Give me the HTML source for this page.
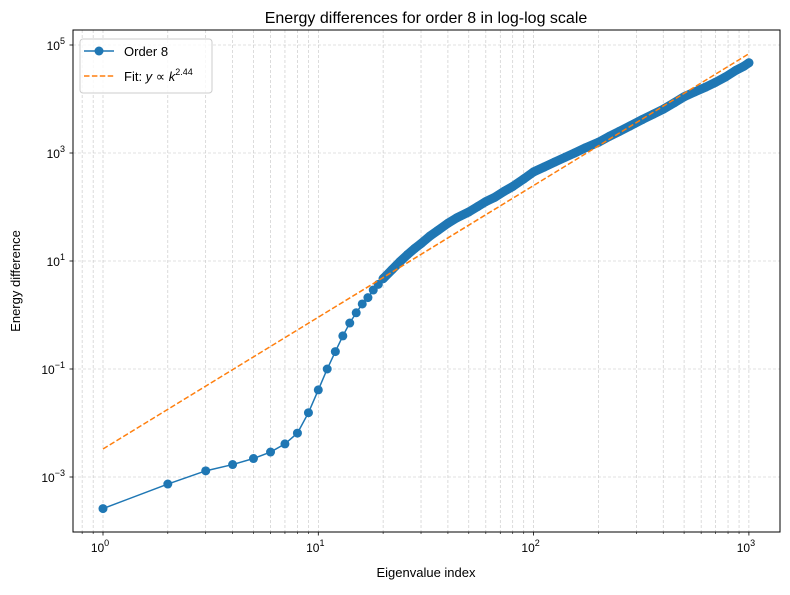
<!DOCTYPE html>
<html><head><meta charset="utf-8"><style>
body{margin:0;background:#fff;font-family:"Liberation Sans","DejaVu Sans",sans-serif;}
</style></head><body>
<svg id="chart" width="790" height="590" xmlns="http://www.w3.org/2000/svg" font-family="Liberation Sans, DejaVu Sans, sans-serif">
<rect width="790" height="590" fill="#fff"/>
<g id="grid"></g>
<g id="series"></g>
<g id="fit"></g>
<rect x="73" y="30" width="707" height="502" fill="none" stroke="#000" stroke-width="1"/>
<g id="ticks" font-size="12" fill="#000"></g>
<text x="426" y="23" font-size="16" text-anchor="middle">Energy differences for order 8 in log-log scale</text>
<text x="426" y="577" font-size="13" text-anchor="middle">Eigenvalue index</text>
<text x="20" y="281" font-size="13" text-anchor="middle" transform="rotate(-90 20 281)">Energy difference</text>
<g>
<rect x="80" y="39" width="132" height="54" rx="3" fill="#fff" fill-opacity="0.8" stroke="#ccc"/>
<line x1="84" y1="51" x2="114" y2="51" stroke="#1f77b4" stroke-width="1.5"/>
<circle cx="99" cy="51" r="4.5" fill="#1f77b4"/>
<text x="124" y="56" font-size="13">Order 8</text>
<line x1="84" y1="76" x2="114" y2="76" stroke="#ff7f0e" stroke-width="1.5" stroke-dasharray="5.5,2.4"/>
<text x="124" y="81" font-size="13">Fit: <tspan font-style="italic">y</tspan> ∝ <tspan font-style="italic">k</tspan><tspan font-size="9" dy="-6">2.44</tspan></text>
</g>
</svg>
<script>
const ks=[1,2,3,4,5,6,7,8,9,10,11,12,13,14,15,16,17,18,19,20,22,24,26,28,30,33,36,40,44,50,55,60,66,73,80,90,100,112,125,140,155,175,200,225,250,280,320,360,400,450,500,560,630,700,780,870,950,1000];
const energies=[2.6e-4,7.4e-4,1.3e-3,1.7e-3,2.2e-3,2.9e-3,4.1e-3,6.5e-3,1.55e-2,4.1e-2,0.1,0.21,0.41,0.71,1.1,1.6,2.1,2.9,3.7,4.7,6.9,9.8,13.2,17,21,29,37,50,63,81,102,126,151,195,240,331,447,550,676,832,1000,1260,1580,2040,2510,3160,4170,5250,6460,8510,11000,13500,16600,20400,25700,33900,40700,46800];
const fitAmp=[3.3e-3];
const fitExp=[2.44];
const fitRange=[1,1000];
const xTickExps=[0,1,2,3];
const yTickExps=[-3,-1,1,3,5];

const NS='http://www.w3.org/2000/svg';
function X(v){return 103+215.3*Math.log10(v);}
function Y(v){return 477-54*(Math.log10(v)+3);}
function mk(tag,attrs,parent){const e=document.createElementNS(NS,tag);for(const k in attrs)e.setAttribute(k,attrs[k]);parent.appendChild(e);return e;}
const grid=document.getElementById('grid'),ticks=document.getElementById('ticks');
for(let d=-1;d<=3;d++){for(let m=1;m<10;m++){const v=m*Math.pow(10,d);const x=X(v);if(x<74||x>779)continue;
 const l=mk('line',{x1:x,x2:x,y1:30,y2:532,stroke:'#c4c4c4','stroke-width':0.6,'stroke-dasharray':'3,2'},grid);
 
 
 const t=mk('line',{x1:x,x2:x,y1:532,y2:532+(m==1?3.5:2),stroke:'#000','stroke-width':m==1?0.8:0.6},ticks);
 
 }}
xTickExps.forEach(e=>{const x=X(Math.pow(10,e));
 const t=mk('text',{x:x-3,y:552,'text-anchor':'middle'},ticks);
 
 
 t.innerHTML='10<tspan font-size="9" dy="-6">'+e+'</tspan>';});
yTickExps.forEach(e=>{const y=Y(Math.pow(10,e));
 const l=mk('line',{x1:73,x2:780,y1:y,y2:y,stroke:'#c4c4c4','stroke-width':0.6,'stroke-dasharray':'3,2'},grid);
 
 
 mk('line',{x1:69.5,x2:73,y1:y,y2:y,stroke:'#000','stroke-width':0.8},ticks);
 const t=mk('text',{x:65,y:y+5,'text-anchor':'end'},ticks);
 
 
 t.innerHTML='10<tspan font-size="9" dy="-6">'+(e<0?'−'+(-e):e)+'</tspan>';});
// series
const sg=document.getElementById('series');
const pl=mk('polyline',{points:ks.map((k,i)=>X(k)+','+Y(energies[i])).join(' '),fill:'none',stroke:'#1f77b4','stroke-width':1.5},sg);


// dense-marker region: markers overlap into a continuous band
const dense=ks.map((k,i)=>[k,energies[i]]).filter(p=>p[0]>=20);
const band=mk('polyline',{points:dense.map(p=>X(p[0])+','+Y(p[1])).join(' '),fill:'none',stroke:'#1f77b4','stroke-width':9,'stroke-linejoin':'round','stroke-linecap':'round'},sg);


ks.forEach((k,i)=>{const c=mk('circle',{cx:X(k),cy:Y(energies[i]),r:4.5,fill:'#1f77b4'},sg);
 
 });
// fit
const fg=document.getElementById('fit');
const f=v=>fitAmp[0]*Math.pow(v,fitExp[0]);
const fl=mk('line',{x1:X(fitRange[0]),y1:Y(f(fitRange[0])),x2:X(fitRange[1]),y2:Y(f(fitRange[1])),stroke:'#ff7f0e','stroke-width':1.5,'stroke-dasharray':'5.5,2.4'},fg);


</script>
</body></html>
